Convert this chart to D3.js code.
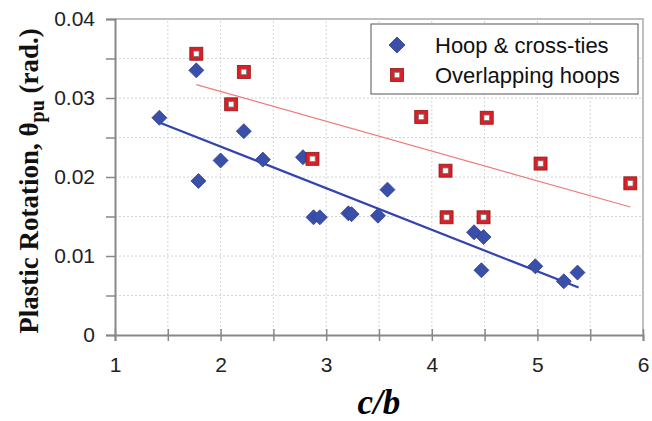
<!DOCTYPE html>
<html lang="en">
<head>
    <meta charset="UTF-8">
    <title>Plastic Rotation vs c/b</title>
    <style>
        body, html { margin: 0; background: #fff; }
        svg { display: block; }
        .tick text { font-family: Arial, "Liberation Sans", sans-serif; font-size: 21px; fill: #222; }
        .grid line { stroke: #d4d4d4; stroke-dasharray: 2,2; }
    </style>
</head>
<body>
    <svg width="652" height="421"></svg>
    <script src="https://cdnjs.cloudflare.com/ajax/libs/d3/7.8.5/d3.min.js"></script>
    <script>
        // Hoop & cross-ties (blue diamonds)
        const hoopX = [1.42, 1.77, 1.79, 2.00, 2.22, 2.40, 2.78, 2.88, 2.94, 3.21, 3.24, 3.49, 3.58, 4.40, 4.49, 4.47, 4.98, 5.25, 5.38];
        const hoopY = [0.0275, 0.0335, 0.0195, 0.0221, 0.0258, 0.0222, 0.0225, 0.0149, 0.0149, 0.0154, 0.0153, 0.0151, 0.0184, 0.0130, 0.0124, 0.0082, 0.0087, 0.0068, 0.0079];
        // Overlapping hoops (red squares)
        const overX = [1.77, 2.22, 2.10, 2.87, 3.90, 4.52, 4.13, 5.03, 5.88, 4.14, 4.49];
        const overY = [0.0356, 0.0333, 0.0292, 0.0223, 0.0276, 0.0275, 0.0208, 0.0217, 0.0192, 0.0149, 0.0149];
        // trend lines, endpoints as drawn
        const hoopTrendX = [1.42, 5.39];
        const hoopTrendY = [0.0269, 0.0060];
        const overTrendX = [1.77, 5.88];
        const overTrendY = [0.0317, 0.0162];

        const xTicks = [1, 2, 3, 4, 5, 6];
        const yTicks = [0, 0.01, 0.02, 0.03, 0.04];
        const seriesNames = ["Hoop & cross-ties", "Overlapping hoops"];

        const svg = d3.select("svg");
        const x = d3.scaleLinear().domain([1, 6]).range([115, 643]);
        const y = d3.scaleLinear().domain([0, 0.04]).range([335, 19]);

        // grid
        const grid = svg.append("g").attr("class", "grid");
        grid.selectAll("line.v").data(d3.range(1.5, 6, 0.5)).enter().append("line")
            .attr("x1", d => x(d)).attr("x2", d => x(d)).attr("y1", y(0)).attr("y2", y(0.04));
        grid.selectAll("line.h").data(d3.range(1, 8).map(i => i * 0.005)).enter().append("line")
            .attr("x1", x(1)).attr("x2", x(6)).attr("y1", d => y(d)).attr("y2", d => y(d));

        // frame top/right
        svg.append("path")
            .attr("d", `M${x(1)},${y(0.04)}H${x(6)}V${y(0)}`)
            .attr("fill", "none").attr("stroke", "#aaa").attr("stroke-width", 1.5);

        const xAxis = svg.append("g").attr("transform", `translate(0,${y(0)})`)
            .call(d3.axisBottom(x).tickValues(d3.range(1, 6.01, 0.5)).tickSize(6).tickPadding(16)
                .tickFormat(d => xTicks.includes(d) ? d3.format("d")(d) : ""));
        const yAxis = svg.append("g").attr("transform", `translate(${x(1)},0)`)
            .call(d3.axisLeft(y).tickValues(d3.range(0, 9).map(i => i * 0.005)).tickSize(9).tickPadding(11)
                .tickFormat(d => yTicks.some(t => Math.abs(t - d) < 1e-9) ? (d === 0 ? "0" : d3.format(".2f")(d)) : ""));
        [xAxis, yAxis].forEach(a => {
            a.select(".domain").attr("stroke", "#888").attr("stroke-width", 2);
            a.selectAll(".tick line").attr("stroke", "#888").attr("stroke-width", 1.5);
        });
        xAxis.selectAll(".tick line").attr("transform", "translate(0,-6)").attr("y2", 12);

        // trend lines
        svg.append("line")
            .attr("x1", x(overTrendX[0])).attr("y1", y(overTrendY[0]))
            .attr("x2", x(overTrendX[1])).attr("y2", y(overTrendY[1]))
            .attr("stroke", "#f07a7a").attr("stroke-width", 1.2);
        svg.append("line")
            .attr("x1", x(hoopTrendX[0])).attr("y1", y(hoopTrendY[0]))
            .attr("x2", x(hoopTrendX[1])).attr("y2", y(hoopTrendY[1]))
            .attr("stroke", "#3344b0").attr("stroke-width", 2.2);

        function diamond(g, cx, cy, r) {
            g.append("path")
                .attr("d", `M${cx},${cy - r}L${cx + r},${cy}L${cx},${cy + r}L${cx - r},${cy}Z`)
                .attr("fill", "#3a4fa8").attr("stroke", "#2e3f94").attr("stroke-width", 0.8);
        }
        function square(g, cx, cy, s) {
            g.append("rect").attr("x", cx - s / 2).attr("y", cy - s / 2).attr("width", s).attr("height", s)
                .attr("fill", "#dc1f26").attr("stroke", "#8a1a1a").attr("stroke-width", 0.8);
            const w = s * 0.42;
            g.append("rect").attr("x", cx - w / 2).attr("y", cy - w / 2).attr("width", w).attr("height", w)
                .attr("fill", "#fff").attr("stroke", "#777").attr("stroke-width", 0.8);
        }

        const pts = svg.append("g");
        hoopX.forEach((v, i) => diamond(pts, x(v), y(hoopY[i]), 7.5));
        overX.forEach((v, i) => square(pts, x(v), y(overY[i]), 13));

        // legend
        const lg = svg.append("g");
        lg.append("rect").attr("x", 371).attr("y", 24).attr("width", 267).attr("height", 70)
            .attr("fill", "#fff").attr("stroke", "#555").attr("stroke-width", 1);
        diamond(lg, 397, 45, 8);
        square(lg, 397, 75, 13);
        seriesNames.forEach((n, i) => {
            lg.append("text").attr("x", 435).attr("y", 53 + i * 30).text(n)
                .attr("font-family", "Arial, 'Liberation Sans', sans-serif").attr("font-size", 22).attr("fill", "#111");
        });

        // axis titles
        svg.append("text")
            .attr("x", x(3.5)).attr("y", 414).attr("text-anchor", "middle")
            .attr("font-family", "'Liberation Serif', 'Times New Roman', serif")
            .attr("font-weight", "bold").attr("font-style", "italic").attr("font-size", 35)
            .text("c/b");

        const yt = svg.append("text")
            .attr("transform", `translate(38,181) rotate(-90)`)
            .attr("text-anchor", "middle")
            .attr("font-family", "'Liberation Serif', 'Times New Roman', serif")
            .attr("font-weight", "bold").attr("font-size", 27).attr("fill", "#111");
        yt.append("tspan").text("Plastic Rotation, \u03B8");
        yt.append("tspan").attr("font-size", 20).attr("dy", 6).text("pu");
        yt.append("tspan").attr("dy", -6).text(" (rad.)");
    </script>
</body>
</html>
